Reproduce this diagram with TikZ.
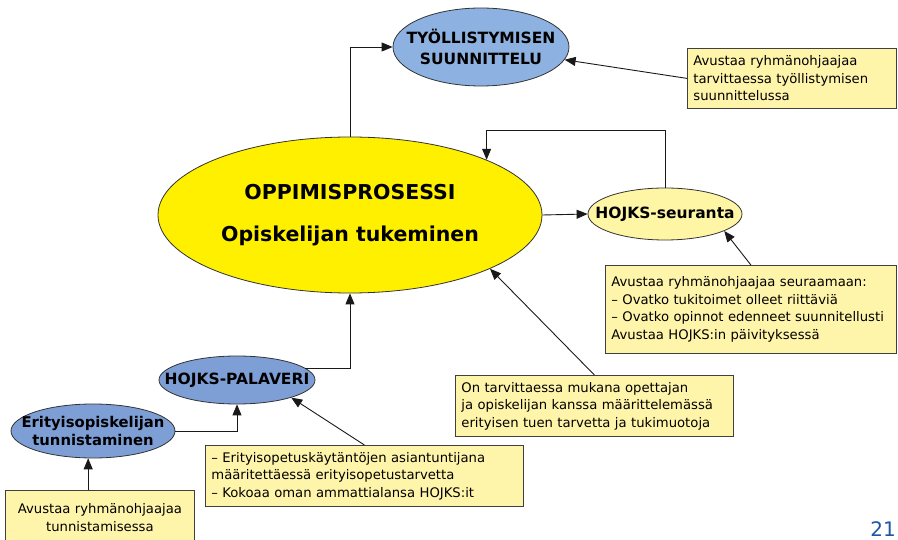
\documentclass[tikz,border=0pt]{standalone}
\usepackage{fontspec}
\setmainfont{DejaVu Sans}
\usetikzlibrary{positioning,shapes.geometric,arrows.meta}
\definecolor{oppiyellow}{RGB}{255,240,0}
\definecolor{seuryellow}{RGB}{255,246,165}
\definecolor{noteyellow}{RGB}{255,245,170}
\definecolor{phaseblue}{RGB}{126,159,214}
\definecolor{toplightblue}{RGB}{141,177,224}
\definecolor{pageblue}{RGB}{30,85,165}

\begin{document}
\begin{tikzpicture}[x=1pt,y=-1pt,>={Triangle[width=9pt,length=11pt]},
	phase/.style={ellipse,draw=black!80,line width=0.8pt,fill=phaseblue,align=center,inner xsep=-24pt,inner ysep=0pt,font=\bfseries\fontsize{15.5}{18}\selectfont},
	note/.style={rectangle,draw=black!75,line width=0.8pt,fill=noteyellow,anchor=north west,align=left,inner xsep=6pt,font=\fontsize{13.2}{17.5}\selectfont},
	link/.style={->,black!90,line width=0.9pt}]
	\useasboundingbox (0,0) rectangle (898,540);

	\node[ellipse,draw=black!80,line width=0.8pt,fill=oppiyellow,minimum width=384pt,minimum height=156pt,inner sep=0pt,align=center,font=\bfseries\fontsize{20.5}{42}\selectfont] (oppi) at (350,215) {OPPIMISPROSESSI\\Opiskelijan tukeminen};
	\node[phase,fill=toplightblue,minimum width=176pt,minimum height=78pt,font=\bfseries\fontsize{15.5}{21}\selectfont] (tyo) at (481,47) {TYÖLLISTYMISEN\\SUUNNITTELU};
	\node[phase,fill=seuryellow,minimum width=154pt,minimum height=52pt] (seur) at (665,214) {HOJKS-seuranta};
	\node[phase,minimum width=156pt,minimum height=48pt] (pal) at (237,380) {HOJKS-PALAVERI};
	\node[phase,minimum width=164pt,minimum height=54pt,font=\bfseries\fontsize{14.8}{18}\selectfont] (eri) at (93,431) {Erityisopiskelijan\\tunnistaminen};

	\node[note,text width=197pt,minimum height=60pt] (tyonote) at (687,48) {Avustaa ryhmänohjaajaa\\tarvittaessa työllistymisen\\suunnittelussa};
	\node[note,text width=279pt,minimum height=88pt] (seurnote) at (605,265) {Avustaa ryhmänohjaajaa seuraamaan:\\– Ovatko tukitoimet olleet riittäviä\\– Ovatko opinnot edenneet suunnitellusti\\Avustaa HOJKS:in päivityksessä};
	\node[note,text width=266pt,minimum height=61pt] (opetnote) at (455,375) {On tarvittaessa mukana opettajan\\ja opiskelijan kanssa määrittelemässä\\erityisen tuen tarvetta ja tukimuotoja};
	\node[note,text width=306pt,minimum height=61pt] (palnote) at (205,445) {– Erityisopetuskäytäntöjen asiantuntijana\\määritettäessä erityisopetustarvetta\\– Kokoaa oman ammattialansa HOJKS:it};
	\node[note,align=center,text width=177pt,minimum height=54pt] (tunnote) at (5,490) {Avustaa ryhmänohjaajaa\\tunnistamisessa};

	\node[text=pageblue,inner sep=0pt,font=\fontsize{20}{20}\selectfont] (sivu) at (883,529) {21};

	\coordinate (backtop) at (0,130);

	\draw[link] (oppi.north) |- (tyo.west);
	\draw[link] (seur.north) |- (oppi.22 |- backtop) -- (oppi.22);
	\draw[link] (pal.10) -| (oppi.south);
	\draw[link] (eri.east) -| (pal.south);
	\path[link]
		(oppi.east) edge (seur.west)
		(tyonote.west) edge (tyo)
		(seurnote.north) edge (seur.-16)
		(opetnote.north) edge (oppi.-21)
		(palnote.north) edge (pal.-18)
		(eri.-100 |- tunnote.north) edge (eri.-100);
\end{tikzpicture}
\end{document}
